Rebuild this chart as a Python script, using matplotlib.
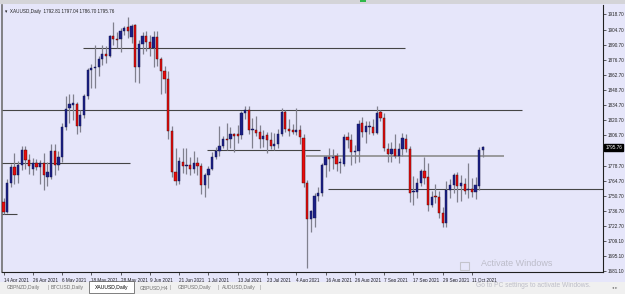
import matplotlib
matplotlib.use('Agg')
import matplotlib.pyplot as plt
from matplotlib.patches import Rectangle
from matplotlib.transforms import blended_transform_factory
import numpy as np

# Daily candles 14 Apr 2021 .. 14 Oct 2021
opens = [1745, 1736, 1763, 1777, 1770, 1779, 1793, 1784, 1776, 1781, 1777, 1781, 1768, 1768, 1792, 1779,
         1787, 1814, 1832, 1835, 1836, 1815, 1826, 1843, 1867, 1869, 1870, 1877, 1882, 1880, 1899, 1896,
         1896, 1903, 1907, 1898, 1909, 1870, 1891, 1899, 1893, 1888, 1898, 1877, 1866, 1859, 1811, 1773,
         1764, 1782, 1778, 1779, 1776, 1781, 1778, 1761, 1770, 1776, 1787, 1792, 1797, 1803, 1803, 1808,
         1808, 1807, 1827, 1830, 1812, 1812, 1810, 1803, 1807, 1802, 1797, 1799, 1808, 1828, 1813, 1812,
         1810, 1812, 1804, 1763, 1729, 1730, 1751, 1753, 1779, 1787, 1786, 1788, 1781, 1780, 1805, 1802,
         1791, 1792, 1818, 1810, 1814, 1814, 1809, 1828, 1823, 1794, 1789, 1794, 1788, 1794, 1803, 1794,
         1754, 1754, 1763, 1774, 1768, 1742, 1751, 1750, 1735, 1726, 1756, 1761, 1770, 1760, 1762, 1756,
         1757, 1754, 1760, 1792.81]
highs = [1749, 1766, 1780, 1790, 1783, 1797, 1797, 1789, 1786, 1785, 1784, 1790, 1782, 1799, 1799, 1792,
         1818, 1843, 1845, 1845, 1838, 1830, 1845, 1869, 1873, 1890, 1880, 1890, 1889, 1900, 1912, 1902,
         1906, 1908, 1916, 1910, 1910, 1895, 1902, 1903, 1900, 1903, 1903, 1879, 1871, 1866, 1815, 1795,
         1787, 1795, 1795, 1787, 1792, 1787, 1781, 1772, 1778, 1791, 1796, 1815, 1806, 1818, 1814, 1809,
         1816, 1829, 1834, 1834, 1823, 1825, 1816, 1812, 1810, 1810, 1809, 1813, 1832, 1830, 1822, 1817,
         1832, 1816, 1808, 1765, 1738, 1753, 1759, 1781, 1788, 1795, 1794, 1790, 1786, 1808, 1810, 1808,
         1798, 1821, 1824, 1820, 1820, 1822, 1834, 1830, 1827, 1800, 1801, 1808, 1800, 1809, 1808, 1797,
         1769, 1767, 1776, 1787, 1781, 1755, 1762, 1755, 1740, 1764, 1766, 1772, 1773, 1770, 1767, 1781,
         1767, 1768, 1796, 1797.04]
lows = [1734, 1735, 1759, 1762, 1763, 1775, 1776, 1771, 1770, 1775, 1762, 1756, 1760, 1766, 1770, 1775,
        1782, 1812, 1818, 1821, 1808, 1810, 1823, 1840, 1851, 1851, 1862, 1872, 1874, 1879, 1890, 1888,
        1884, 1900, 1897, 1892, 1856, 1855, 1882, 1885, 1880, 1870, 1871, 1845, 1846, 1803, 1768, 1761,
        1762, 1772, 1771, 1770, 1772, 1770, 1752, 1750, 1758, 1775, 1785, 1788, 1795, 1793, 1795, 1791,
        1800, 1803, 1822, 1808, 1795, 1806, 1795, 1796, 1790, 1794, 1793, 1795, 1806, 1810, 1806, 1808,
        1807, 1799, 1759, 1684, 1717, 1722, 1746, 1751, 1768, 1774, 1776, 1774, 1772, 1778, 1795, 1779,
        1781, 1782, 1805, 1800, 1808, 1807, 1808, 1820, 1792, 1782, 1782, 1786, 1781, 1788, 1791, 1745,
        1742, 1749, 1760, 1762, 1737, 1740, 1744, 1730, 1722, 1722, 1749, 1753, 1745, 1746, 1752, 1749,
        1750, 1748, 1756, 1786.70]
closes = [1736, 1763, 1777, 1770, 1779, 1793, 1784, 1778, 1781, 1777, 1781, 1770, 1773, 1792, 1779, 1787,
          1814, 1831, 1836, 1837, 1815, 1826, 1843, 1867, 1869, 1870, 1877, 1882, 1880, 1899, 1896, 1895,
          1903, 1906, 1903, 1908, 1870, 1891, 1899, 1893, 1888, 1898, 1877, 1866, 1859, 1811, 1773, 1764,
          1783, 1778, 1779, 1776, 1781, 1778, 1761, 1770, 1776, 1787, 1792, 1797, 1803, 1802, 1808, 1806,
          1806, 1827, 1830, 1812, 1812, 1809, 1803, 1806, 1802, 1797, 1799, 1808, 1828, 1813, 1811, 1810,
          1812, 1805, 1763, 1729, 1737, 1751, 1753, 1779, 1787, 1785, 1787, 1780, 1781, 1805, 1802, 1791,
          1792, 1817, 1810, 1815, 1815, 1809, 1827, 1823, 1795, 1789, 1794, 1788, 1794, 1804, 1794, 1753,
          1754, 1763, 1774, 1767, 1742, 1750, 1750, 1735, 1726, 1756, 1761, 1770, 1760, 1763, 1755, 1757,
          1754, 1761, 1793, 1795.76]

date_labels = ['14 Apr 2021', '26 Apr 2021', '6 May 2021', '18 May 2021', '28 May 2021', '9 Jun 2021',
               '21 Jun 2021', '1 Jul 2021', '13 Jul 2021', '23 Jul 2021', '4 Aug 2021', '16 Aug 2021',
               '26 Aug 2021', '7 Sep 2021', '17 Sep 2021', '29 Sep 2021', '11 Oct 2021']
price_ticks = [1918.70, 1904.70, 1890.70, 1876.70, 1862.70, 1848.70, 1834.70, 1820.70, 1806.70,
               1792.70, 1778.70, 1764.70, 1750.70, 1736.70, 1722.70, 1709.10, 1695.10, 1681.10]

# user drawn horizontal levels: price, first bar, last bar
level_price = [1887.6, 1830.2, 1781.1, 1793.1, 1787.5, 1757.0, 1733.9]
level_from = [21.7, -1, -1, 55.6, 82.7, 88.7, -1]
level_to = [109.7, 141.7, 34.6, 86.5, 136.7, 170, 3.7]

tabs = ['GBPNZD,Daily', 'BTCUSD,Daily', 'XAUUSD,Daily', 'GBPUSD,H4', 'GBPUSD,Daily', 'AUDUSD,Daily']

o = np.array(opens, dtype=float)
h = np.array(highs, dtype=float)
l = np.array(lows, dtype=float)
c = np.array(closes, dtype=float)
x = np.arange(len(o))

bg = '#e6e6fa'
plt.rcParams['font.family'] = ['Liberation Sans', 'DejaVu Sans']

fig = plt.figure(figsize=(6.25, 2.94), dpi=100, facecolor=bg)
ax = fig.add_axes([2 / 625, 22 / 294, 601 / 625, 267 / 294], facecolor=bg)

# levels
for p, a, b in zip(level_price, level_from, level_to):
    col, lw = ('#8c8c8c', 1.2) if p == 1787.5 else ('#454545', 0.8)
    ax.hlines(p, a, b, color=col, lw=lw, zorder=1)

# candles
ax.vlines(x, l, h, color='#80808e', lw=0.9, zorder=2)
up = c >= o
body = np.maximum(np.abs(c - o), 0.9)
bottom = np.minimum(o, c)
ax.bar(x[up], body[up], bottom=bottom[up], width=0.62, color='#1b1f86',
       edgecolor='#10124a', linewidth=0.3, zorder=3)
ax.bar(x[~up], body[~up], bottom=bottom[~up], width=0.62, color='#e80c0c',
       edgecolor='#3a0a0a', linewidth=0.3, zorder=3)

ax.set_xlim(-0.41, 163.8)
ax.set_ylim(1680.2, 1927.4)

ax.spines['top'].set_visible(False)
ax.spines['left'].set_color('#707070')
ax.spines['left'].set_linewidth(1.2)
ax.spines['right'].set_color('#202020')
ax.spines['right'].set_linewidth(0.8)
ax.spines['bottom'].set_color('#202020')
ax.spines['bottom'].set_linewidth(0.8)

ax.yaxis.tick_right()
ax.set_yticks(price_ticks)
ax.set_yticklabels(['%.2f' % v for v in price_ticks], fontsize=3.3, color='#202020')
ax.tick_params(axis='y', length=2.5, width=0.5, pad=1.2, colors='#202020')

ax.set_xticks(np.arange(len(date_labels)) * 8)
ax.set_xticklabels(date_labels, fontsize=3.3, color='#202020', ha='left')
ax.tick_params(axis='x', length=2.5, width=0.5, pad=1.5, colors='#202020')

# current price tag
tr = blended_transform_factory(ax.transAxes, ax.transData)
ax.text(1.004, c[-1], '%.2f' % c[-1], transform=tr, fontsize=3.3, color='white', va='center',
        ha='left', bbox=dict(boxstyle='square,pad=0.2', fc='black', ec='black'), zorder=5)

# title line
ax.text(0.005, 0.985, '\u25be  XAUUSD,Daily  %.2f %.2f %.2f %.2f' % (o[-1], h[-1], l[-1], c[-1]),
        transform=ax.transAxes, fontsize=3.3, color='#202020', va='top', ha='left')

# top strip
fig.add_artist(Rectangle((0, 290 / 294), 1, 4 / 294, transform=fig.transFigure,
                         fc='#d4d4d8', ec='none'))
fig.add_artist(Rectangle((360 / 625, 292 / 294), 6 / 625, 2 / 294, transform=fig.transFigure,
                         fc='#2fb84a', ec='none'))

# tab bar
fig.add_artist(Rectangle((0, 0), 1, 12 / 294, transform=fig.transFigure, fc='#f0f0f0', ec='none'))
tab_x = [7, 51, 95, 140, 178, 222]
for t, tx in zip(tabs, tab_x):
    if t == 'XAUUSD,Daily':
        fig.add_artist(Rectangle((89 / 625, 1 / 294), 45 / 625, 12 / 294, transform=fig.transFigure,
                                 fc='white', ec='#505050', lw=0.5))
        fig.text(tx / 625, 6 / 294, t, fontsize=3.6, color='#000000', va='center')
    else:
        fig.text(tx / 625, 6 / 294, t, fontsize=3.6, color='#707070', va='center')
for sx in [47, 170, 217, 260]:
    fig.text(sx / 625, 6 / 294, '|', fontsize=3.6, color='#909090', va='center')
fig.text(612 / 625, 6 / 294, '\u25c2 \u25b8', fontsize=3, color='#707070', va='center')

# windows watermark
fig.add_artist(Rectangle((460 / 625, 24 / 294), 9 / 625, 8 / 294, transform=fig.transFigure,
                         fc='none', ec='#c4c4cc', lw=0.8))
fig.text(481 / 625, 30 / 294, 'Activate Windows', fontsize=6.5, color='#b8b8c4', va='center', alpha=0.9)
fig.text(476 / 625, 8.5 / 294, 'Go to PC settings to activate Windows.', fontsize=4.8, color='#b8b8c4',
         va='center', alpha=0.9)

fig.savefig('out.png', dpi=100, facecolor=bg)
